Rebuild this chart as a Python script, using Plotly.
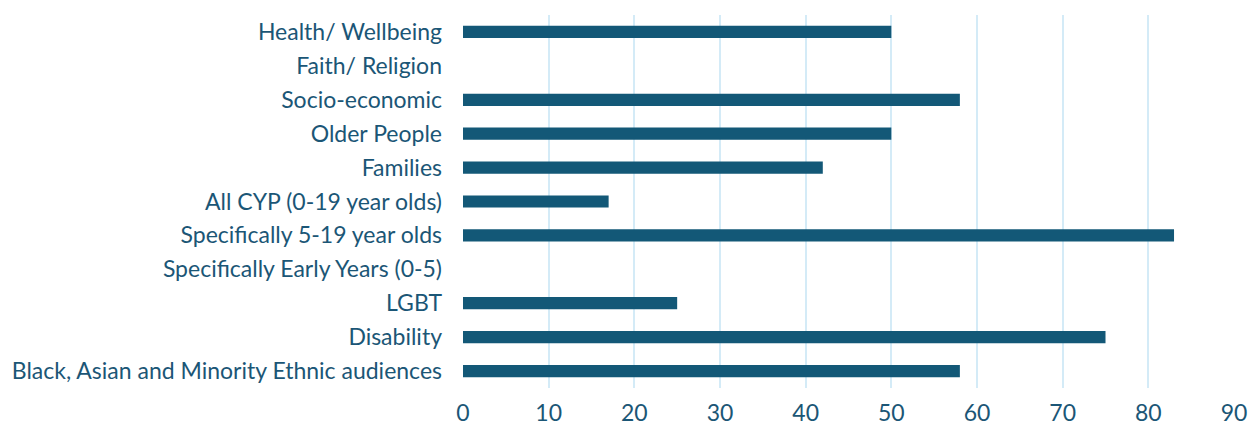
import plotly.graph_objects as go

# Audience categories, listed bottom to top as drawn on the y axis
categories = [
    "Black, Asian and Minority Ethnic audiences",
    "Disability",
    "LGBT",
    "Specifically Early Years (0-5)",
    "Specifically 5-19 year olds",
    "All CYP (0-19 year olds)",
    "Families",
    "Older People",
    "Socio-economic",
    "Faith/ Religion",
    "Health/ Wellbeing",
]
values = [58, 75, 25, 0, 83, 17, 42, 50, 58, 0, 50]
x_ticks = [0, 10, 20, 30, 40, 50, 60, 70, 80, 90]

BAR = "#135877"
TEXT = "#1b5676"
GRID = "#d4ebf7"
FONT = "Lato"

fig = go.Figure(
    go.Bar(
        x=values,
        y=categories,
        orientation="h",
        marker=dict(color=BAR, line=dict(width=0)),
        width=0.36,
        hoverinfo="x+y",
    )
)

fig.update_layout(
    width=1251,
    height=428,
    margin=dict(l=463, r=17, t=15, b=40, autoexpand=False),
    paper_bgcolor="white",
    plot_bgcolor="white",
    showlegend=False,
    font=dict(family=FONT, color=TEXT, size=20),
)

fig.update_xaxes(
    range=[0, 90],
    tickvals=x_ticks,
    ticktext=[str(t) for t in x_ticks],
    showgrid=True,
    gridcolor=GRID,
    gridwidth=1.5,
    zeroline=False,
    showline=False,
    ticks="",
    tickfont=dict(size=23, family=FONT, color=TEXT),
    ticklabelstandoff=9,
)

fig.update_yaxes(
    categoryorder="array",
    categoryarray=categories,
    range=[-0.5, len(categories) - 0.5],
    showgrid=False,
    zeroline=False,
    showline=False,
    ticks="",
    tickfont=dict(size=23, family=FONT, color=TEXT),
    ticklabelstandoff=20,
)

fig.write_html("out.html")
